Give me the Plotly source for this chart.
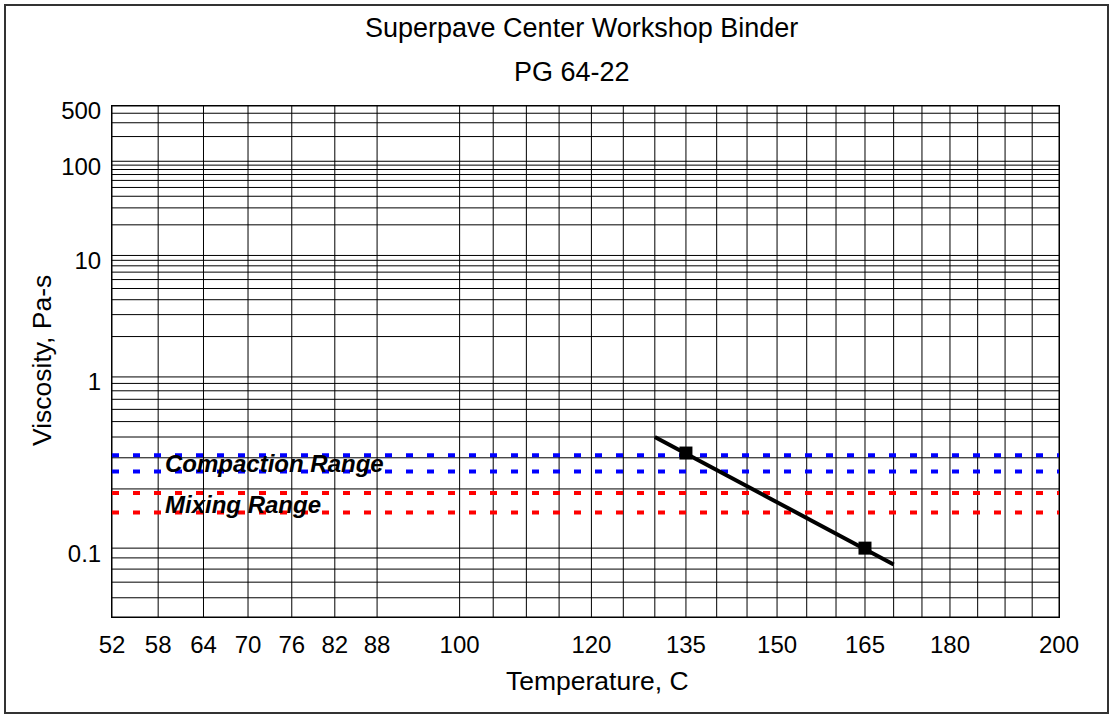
import math
import plotly.graph_objects as go

# ---------------- data ----------------
point_temps = [135, 165]          # deg C
point_visc = [0.32, 0.10]         # Pa-s
line_temps = [130, 170]           # fitted line ends, deg C
line_visc = [0.40, 0.084]         # Pa-s
compaction_range = [0.25, 0.31]   # Pa-s
mixing_range = [0.15, 0.19]       # Pa-s

x_tick_temps = [52, 58, 64, 70, 76, 82, 88, 100, 120, 135, 150, 165, 180, 200]
x_grid_temps = [52, 58, 64, 70, 76, 82, 88,
                100, 105, 110, 115, 120, 125, 130, 135, 140, 145, 150,
                155, 160, 165, 170, 175, 180, 185, 190, 195, 200]
y_tick_visc = [500, 100, 10, 1, 0.1]
y_tick_text = ["500", "100", "10", "1", "0.1"]
y_grid_visc = [500, 400, 300, 200, 100, 90, 80, 70, 60, 50, 40, 30, 20,
               10, 9, 8, 7, 6, 5, 4, 3, 2, 1, 0.9, 0.8, 0.7, 0.6, 0.5,
               0.4, 0.3, 0.2, 0.1, 0.09, 0.08, 0.07, 0.06, 0.05]
x_min_temp, x_max_temp = 52, 200
y_min_visc, y_max_visc = 0.05, 500


# ASTM-style scales: log(T in K) and log(log(viscosity in mPa-s))
def tx(t):
    return math.log10(t + 273.15)


def ty(v):
    return math.log10(math.log10(v * 1000.0))


FONT = "Liberation Sans, Arial, sans-serif"
W, H = 1114, 715
L, R, T, B = 112, 55, 106, 98
PW, PH = W - L - R, H - T - B


def px(xp):
    return (xp - L) / PW


def py(yp):
    return (H - B - yp) / PH


fig = go.Figure()

# grid lines
shapes = []
for t in x_grid_temps:
    shapes.append(dict(type="line", xref="x", yref="y", layer="below",
                       x0=tx(t), x1=tx(t), y0=ty(y_min_visc), y1=ty(y_max_visc),
                       line=dict(color="#000000", width=1)))
for v in y_grid_visc:
    shapes.append(dict(type="line", xref="x", yref="y", layer="below",
                       x0=tx(x_min_temp), x1=tx(x_max_temp), y0=ty(v), y1=ty(v),
                       line=dict(color="#000000", width=1)))

# outer chart border
shapes.append(dict(type="rect", xref="paper", yref="paper",
                   x0=px(5), x1=px(1108), y0=py(713), y1=py(5),
                   line=dict(color="#333333", width=2), layer="above"))

# range lines
for v in compaction_range:
    fig.add_trace(go.Scatter(x=[tx(x_min_temp), tx(x_max_temp)], y=[ty(v), ty(v)],
                             mode="lines", line=dict(color="#0000FF", width=4, dash="7px,14px"),
                             hoverinfo="skip", showlegend=False, cliponaxis=False))
for v in mixing_range:
    fig.add_trace(go.Scatter(x=[tx(x_min_temp), tx(x_max_temp)], y=[ty(v), ty(v)],
                             mode="lines", line=dict(color="#FF0000", width=4, dash="7px,14px"),
                             hoverinfo="skip", showlegend=False, cliponaxis=False))

# fitted line
fig.add_trace(go.Scatter(x=[tx(t) for t in line_temps], y=[ty(v) for v in line_visc],
                         mode="lines", line=dict(color="#000000", width=4),
                         showlegend=False))
# measured points
fig.add_trace(go.Scatter(x=[tx(t) for t in point_temps], y=[ty(v) for v in point_visc],
                         mode="markers", marker=dict(symbol="square", size=13, color="#000000"),
                         showlegend=False))

annotations = [
    dict(text="Superpave Center Workshop Binder", xref="paper", yref="paper",
         x=px(581), y=py(28), xanchor="center", yanchor="middle",
         showarrow=False, font=dict(family=FONT, size=27, color="#000000")),
    dict(text="PG 64-22", xref="paper", yref="paper",
         x=px(572), y=py(72), xanchor="center", yanchor="middle",
         showarrow=False, font=dict(family=FONT, size=27, color="#000000")),
    dict(text="Temperature, C", xref="paper", yref="paper",
         x=px(597), y=py(681), xanchor="center", yanchor="middle",
         showarrow=False, font=dict(family=FONT, size=26.5, color="#000000")),
    dict(text="Viscosity, Pa-s", xref="paper", yref="paper", textangle=-90,
         x=px(42), y=py(361), xanchor="center", yanchor="middle",
         showarrow=False, font=dict(family=FONT, size=26.5, color="#000000")),
    dict(text="<b><i>Compaction Range</i></b>", xref="paper", yref="y",
         x=px(163), y=(ty(compaction_range[0]) + ty(compaction_range[1])) / 2,
         xanchor="left", yanchor="middle", showarrow=False,
         font=dict(family=FONT, size=24, color="#000000")),
    dict(text="<b><i>Mixing Range</i></b>", xref="paper", yref="y",
         x=px(163), y=(ty(mixing_range[0]) + ty(mixing_range[1])) / 2,
         xanchor="left", yanchor="middle", yshift=-2, showarrow=False,
         font=dict(family=FONT, size=24, color="#000000")),
]

fig.update_layout(
    width=W, height=H,
    margin=dict(l=L, r=R, t=T, b=B),
    paper_bgcolor="#FFFFFF", plot_bgcolor="#FFFFFF",
    shapes=shapes, annotations=annotations,
    showlegend=False,
    font=dict(family=FONT, size=24, color="#000000"),
)
fig.update_xaxes(
    range=[tx(x_min_temp), tx(x_max_temp)],
    tickmode="array", tickvals=[tx(t) for t in x_tick_temps],
    ticktext=[str(t) for t in x_tick_temps],
    showgrid=False, zeroline=False, ticks="",
    showline=True, linecolor="#000000", linewidth=1, mirror=True,
    ticklabelstandoff=6,
    tickfont=dict(family=FONT, size=24, color="#000000"),
)
fig.update_yaxes(
    range=[ty(y_min_visc), ty(y_max_visc)],
    tickmode="array", tickvals=[ty(v) for v in y_tick_visc], ticktext=y_tick_text,
    showgrid=False, zeroline=False, ticks="",
    showline=True, linecolor="#000000", linewidth=1, mirror=True,
    ticklabelstandoff=5, ticklabelshift=5,
    tickfont=dict(family=FONT, size=24, color="#000000"),
)

fig.write_html("out.html", config={"displayModeBar": False},
               post_script="document.body.style.margin='0';document.body.style.padding='0';")
